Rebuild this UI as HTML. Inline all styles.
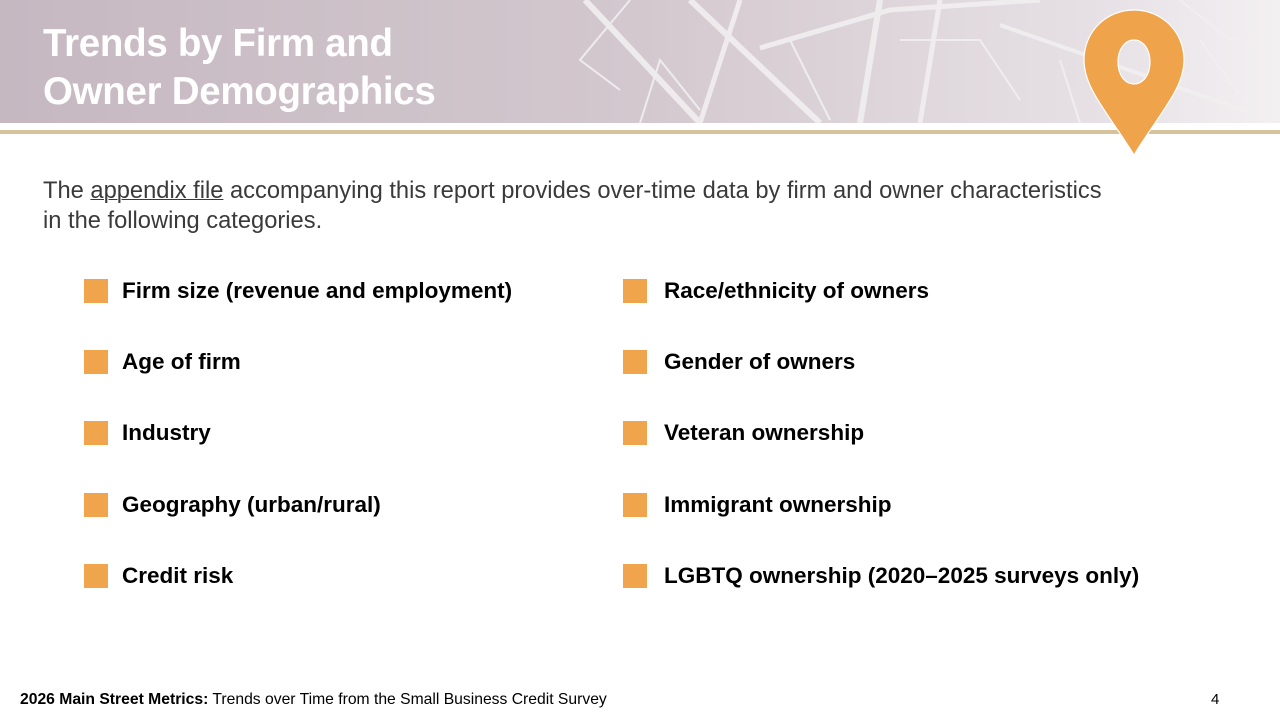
<!DOCTYPE html>
<html><head><meta charset="utf-8"><style>
body{margin:0;width:1280px;height:720px;position:relative;overflow:hidden;background:#fff;font-family:"Liberation Sans",sans-serif}
.hdr{position:absolute;left:0;top:0;width:1280px;height:123px;background:linear-gradient(90deg,#c6b8c1 0%,#d3c8ce 50%,#e6e0e4 85%,#f3f0f2 100%)}
.gold{position:absolute;left:0;top:130px;width:1280px;height:4px;background:#d6c39c}
.title{position:absolute;left:43px;top:20px;color:#fff;font-weight:bold;font-size:38.5px;line-height:48px;letter-spacing:-0.3px}
.intro{position:absolute;left:43px;top:176px;font-size:23.7px;line-height:30px;color:#3a3a3a;white-space:nowrap}
.intro u{text-decoration-thickness:1px}
.item{position:absolute;font-size:22.5px;font-weight:bold;color:#000;white-space:nowrap;line-height:24px}
.sq{position:absolute;width:24px;height:24px;background:#f0a44b}
.foot{position:absolute;left:20px;top:691px;font-size:15.7px;color:#000;white-space:nowrap}
.pg{position:absolute;left:1211px;top:691px;font-size:15px}
</style></head><body>
<div class="hdr">
<svg width="1280" height="123" style="position:absolute;left:0;top:0">
<g stroke="#f2eff1" fill="none" opacity="0.9">
<path d="M585 0 L700 123" stroke-width="6"/><path d="M690 0 L820 123" stroke-width="6"/>
<path d="M740 0 L700 123" stroke-width="5"/><path d="M760 48 L890 10 L1040 0" stroke-width="5"/>
<path d="M880 0 L860 123" stroke-width="6"/><path d="M940 0 L920 123" stroke-width="5"/>
<path d="M1000 25 L1280 123" stroke-width="4"/><path d="M630 0 L580 60 L620 90" stroke-width="2"/>
<path d="M640 123 L660 60 L700 110" stroke-width="2"/><path d="M790 40 L830 120" stroke-width="2"/>
<path d="M900 40 L980 40 L1020 100" stroke-width="2"/><path d="M1200 40 L1260 123" stroke-width="2"/>
<path d="M1180 0 L1230 40 L1280 30" stroke-width="2"/><path d="M1060 60 L1080 123" stroke-width="2"/>
</g></svg>
<div class="title">Trends by Firm and<br>Owner Demographics</div>
</div>
<div class="gold"></div>
<svg width="110" height="160" style="position:absolute;left:1079px;top:4px">
<path d="M55 6 C28 6 5 27 5 56 C5 85 30 110 55 151 C80 110 105 85 105 56 C105 27 82 6 55 6 Z M55 36 C64 36 71 45 71 58 C71 71 64 80 55 80 C46 80 39 71 39 58 C39 45 46 36 55 36 Z" fill="#efa34b" fill-rule="evenodd" stroke="#fff" stroke-width="1.2"/>
</svg>
<div class="intro">The <u>appendix file</u> accompanying this report provides over-time data by firm and owner characteristics<br>in the following categories.</div>

<div class="sq" style="left:84px;top:279px"></div><div class="item" style="left:122px;top:279px">Firm size (revenue and employment)</div>
<div class="sq" style="left:84px;top:350px"></div><div class="item" style="left:122px;top:350px">Age of firm</div>
<div class="sq" style="left:84px;top:421px"></div><div class="item" style="left:122px;top:421px">Industry</div>
<div class="sq" style="left:84px;top:493px"></div><div class="item" style="left:122px;top:493px">Geography (urban/rural)</div>
<div class="sq" style="left:84px;top:564px"></div><div class="item" style="left:122px;top:564px">Credit risk</div>

<div class="sq" style="left:623px;top:279px"></div><div class="item" style="left:664px;top:279px">Race/ethnicity of owners</div>
<div class="sq" style="left:623px;top:350px"></div><div class="item" style="left:664px;top:350px">Gender of owners</div>
<div class="sq" style="left:623px;top:421px"></div><div class="item" style="left:664px;top:421px">Veteran ownership</div>
<div class="sq" style="left:623px;top:493px"></div><div class="item" style="left:664px;top:493px">Immigrant ownership</div>
<div class="sq" style="left:623px;top:564px"></div><div class="item" style="left:664px;top:564px">LGBTQ ownership (2020–2025 surveys only)</div>

<div class="foot"><b>2026 Main Street Metrics:</b> Trends over Time from the Small Business Credit Survey</div>
<div class="pg">4</div>
</body></html>
